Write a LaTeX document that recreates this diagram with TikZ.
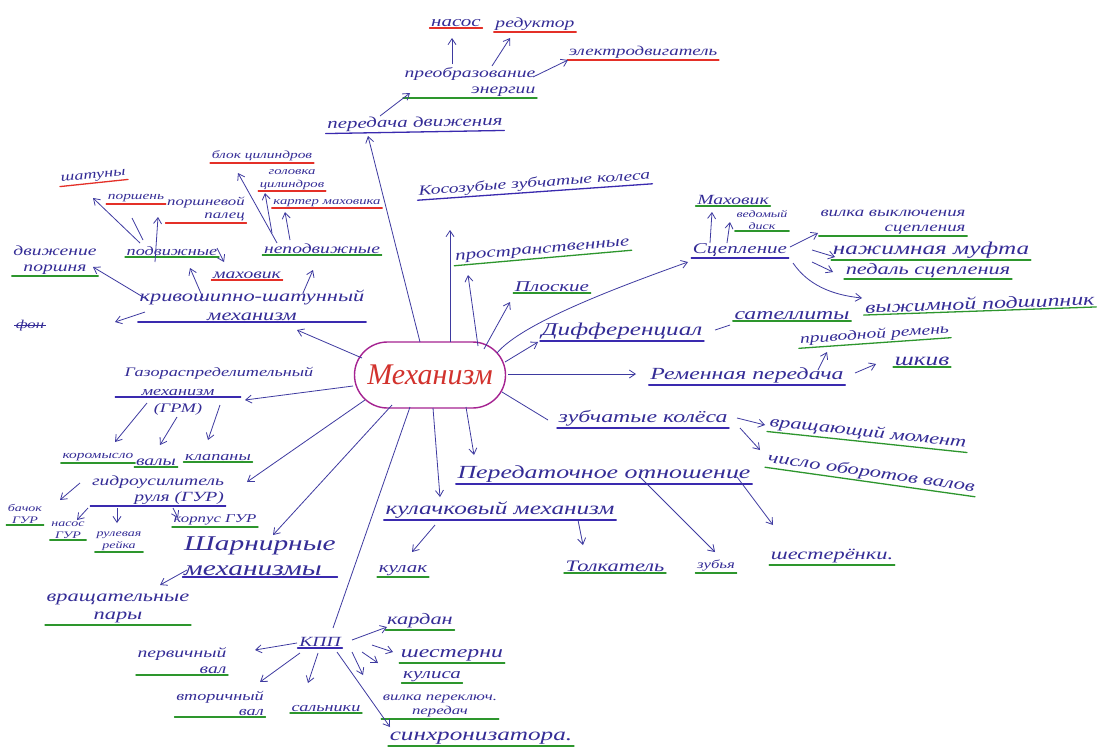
\documentclass[tikz,border=0pt]{standalone}
\usepackage{fontspec}
\setmainfont{Liberation Serif}
\newfontfamily\hand{Liberation Serif}[FakeStretch=1.4]
\usetikzlibrary{arrows.meta,calc,shapes.misc}
\definecolor{ink}{RGB}{52,44,150}
\definecolor{pen}{RGB}{62,58,160}
\definecolor{ulblue}{RGB}{58,42,175}
\definecolor{ulgreen}{RGB}{45,150,45}
\definecolor{ulred}{RGB}{228,48,40}
\definecolor{mechred}{RGB}{210,50,45}
\definecolor{mechrim}{RGB}{165,35,145}
\tikzset{
  txt/.style={anchor=south, inner sep=1.5pt, text=ink},
  fsz/.style={font=\hand\itshape\fontsize{#1}{\dimexpr #1pt*115/100\relax}\selectfont},
  ul/.style={append after command={(\tikzlastnode.south west) edge[draw=#1, line width=1.3pt, line cap=round] (\tikzlastnode.south east)}},
  strike/.style={append after command={(\tikzlastnode.west) edge[draw=ink, line width=1pt] (\tikzlastnode.east)}},
  bl/.style={txt, ul=ulblue},
  gr/.style={txt, ul=ulgreen},
  rd/.style={txt, ul=ulred},
  arr/.style={draw=pen, line width=0.8pt, -{Straight Barb[length=6pt,width=8pt]}},
  ln/.style={draw=pen, line width=0.8pt},
}
\begin{document}
\begin{tikzpicture}[x=1pt,y=-1pt]
\fill[white] (0,0) rectangle (1101,753);
\useasboundingbox (0,0) rectangle (1101,753);

% centre
\node[draw=mechrim, line width=1.4pt, rounded rectangle, minimum width=155pt, minimum height=66pt,
      text=mechred, font=\itshape\fontsize{30}{30}\selectfont, inner sep=2pt] (mech) at (430,375) {Механизм};

% top
\node[bl,fsz=15,rotate=1] (pd) at (415,132) {передача движения};
\node[gr,fsz=14,align=right] (pe) at (470,98) {преобразование\\энергии};
\node[rd,fsz=15] (nasos) at (456,28) {насос};
\node[rd,fsz=14] (redk) at (535,32) {редуктор};
\node[rd,fsz=13.5] (eldv) at (643,60) {электродвигатель};
\node[bl,fsz=14,rotate=4] (kos) at (535,192) {Косозубые зубчатые колеса};
\node[gr,fsz=15,rotate=5] (prost) at (543,258) {пространственные};
\node[gr,fsz=15] (plos) at (552,293) {Плоские};

% right
\node[bl,fsz=18] (dif) at (622,341) {Дифференциал};
\node[gr,fsz=17] (sat) at (792,321) {сателлиты};
\node[bl,fsz=17] (rem) at (747,385) {Ременная передача};
\node[gr,fsz=14,rotate=4] (priv) at (875,343) {приводной ремень};
\node[gr,fsz=18] (shkiv) at (922,367) {шкив};
\node[bl,fsz=17] (zk) at (643,428) {зубчатые колёса};
\node[gr,fsz=16,rotate=-6] (vm) at (867,442) {вращающий момент};
\node[gr,fsz=16,rotate=-8] (chov) at (870,482) {число оборотов валов};
\node[bl,fsz=18.5] (po) at (604,484) {Передаточное отношение};
\node[bl,fsz=18] (kul) at (500,520) {кулачковый механизм};
\node[gr,fsz=15] (kulak) at (403,577) {кулак};
\node[gr,fsz=16] (tolk) at (615,573) {Толкатель};
\node[gr,fsz=12] (zubya) at (716,573) {зубья};
\node[gr,fsz=16] (shest) at (832,565) {шестерёнки.};

% clutch
\node[bl,fsz=15] (scep) at (740,258) {Сцепление};
\node[gr,fsz=14] (mahov) at (733,206) {Маховик};
\node[gr,fsz=10,align=center] (ved) at (762,231) {ведомый\\диск};
\node[gr,fsz=13.5,align=right] (vilv) at (893,236) {вилка выключения\\сцепления};
\node[gr,fsz=18] (nazh) at (931,260) {нажимная муфта};
\node[gr,fsz=16] (ped) at (928,279) {педаль сцепления};
\node[gr,fsz=17,rotate=2] (vyzh) at (980,311) {выжимной подшипник};

% gearbox
\node[bl,fsz=14] (kpp) at (320,648) {КПП};
\node[gr,fsz=16] (kard) at (420,630) {кардан};
\node[gr,fsz=17] (shestr) at (452,663) {шестерни};
\node[gr,fsz=15] (kulisa) at (432,683) {кулиса};
\node[gr,fsz=12,align=center] (vilka) at (440,719) {вилка переключ.\\передач};
\node[gr,fsz=18] (sinh) at (481,746) {синхронизатора.};
\node[gr,fsz=13] (saln) at (326,713) {сальники};
\node[gr,fsz=13,align=right] (vtor) at (220,717) {вторичный\\вал};
\node[gr,fsz=14,align=right] (perv) at (182,675) {первичный\\вал};

% joints
\node[bl,fsz=21,align=left] (sharn) at (260,577) {Шарнирные\\механизмы};
\node[gr,fsz=16,align=center] (vrash) at (118,625) {вращательные\\пары};

% power steering
\node[bl,fsz=14,align=right] (gur) at (158,506) {гидроусилитель\\руля (ГУР)};
\node[gr,fsz=10,align=center] (bachok) at (25,525) {бачок\\ГУР};
\node[gr,fsz=10,align=center] (nasgur) at (68,540) {насос\\ГУР};
\node[gr,fsz=10,align=center] (rul) at (119,552) {рулевая\\рейка};
\node[gr,fsz=12] (korp) at (215,527) {корпус ГУР};

% valve train
\node[txt,fsz=13] (grm) at (219,381) {Газораспределительный};
\node[bl,fsz=13,minimum width=125pt] (grmm) at (178,397) {механизм};
\node[txt,fsz=13] (grmab) at (178,417) {(ГРМ)};
\node[gr,fsz=11] (korom) at (98,463) {коромысло};
\node[gr,fsz=14] (valy) at (156,467) {валы};
\node[gr,fsz=13] (klap) at (218,462) {клапаны};

% crank
\node[bl,fsz=16,align=center] (kshm) at (252,322) {кривошипно-шатунный\\механизм};
\node[gr,fsz=14,align=center] (dvp) at (55,276) {движение\\поршня};
\node[txt,fsz=12,strike] (fon) at (30,333) {фон};
\node[gr,fsz=13] (podv) at (172,257) {подвижные};
\node[gr,fsz=14] (nepodv) at (322,255) {неподвижные};
\node[rd,fsz=14] (mah) at (247,280) {маховик};
\node[rd,fsz=13,rotate=6] (shat) at (94,183) {шатуны};
\node[rd,fsz=11] (porsh) at (136,204) {поршень};
\node[rd,fsz=12,align=right] (ppal) at (206,223) {поршневой\\палец};
\node[rd,fsz=11] (blok) at (262,163) {блок цилиндров};
\node[rd,fsz=10.5,align=center] (gol) at (292,191) {головка\\цилиндров};
\node[rd,fsz=10.5] (kart) at (327,208) {картер маховика};

% connectors from centre
\draw[arr] ($(mech)+(-10,-33)$) -- ($(pd.south)+(-47,4)$);
\draw[arr] ($(mech)+(20,-33)$) -- ($(kos.south)+(-85,38)$);
\draw[arr] ($(mech)+(48,-29)$) -- ($(prost.south)+(-75,17)$);
\draw[arr] ($(mech)+(54,-26)$) -- ($(plos.south)+(-42,9)$);
\draw[arr] ($(mech)+(67,-22)$) .. controls +(25,-30) and +(-70,25) .. ($(scep.south)+(-52,4)$);
\draw[arr] ($(mech)+(75,-13)$) -- ($(dif.south)+(-84,1)$);
\draw[arr] ($(mech)+(78,-1)$) -- ($(rem.south)+(-111,-11)$);
\draw[ln]  ($(mech)+(72,17)$) -- ($(zk.south)+(-95,-8)$);
\draw[arr] ($(mech)+(36,32)$) -- ($(po.south)+(-130,-29)$);
\draw[arr] ($(mech)+(3,33)$) -- ($(kul.south)+(-60,-23)$);
\draw[ln]  ($(mech)+(-20,32)$) -- ($(kpp.south)+(13,-20)$);
\draw[arr] ($(mech)+(-38,30)$) -- ($(sharn.south)+(13,-42)$);
\draw[arr] ($(mech)+(-65,25)$) -- ($(gur.south)+(89,-24)$);
\draw[arr] ($(mech)+(-77,11)$) -- ($(grmm.south)+(67,3)$);
\draw[arr] ($(mech)+(-68,-17)$) -- ($(kshm.south)+(45,8)$);

% top cluster
\draw[arr] ($(pd.south)+(-35,-16)$) -- ($(pe.south)+(-60,-5)$);
\draw[arr] ($(pe.south)+(-18,-34)$) -- ($(nasos.south)+(-4,10)$);
\draw[arr] ($(pe.south)+(22,-32)$) -- ($(redk.south)+(-25,6)$);
\draw[arr] ($(pe.south)+(63,-21)$) -- ($(eldv.south)+(-75,0)$);

% right cluster
\draw[ln]  ($(dif.south)+(93,-11)$) -- ($(sat.south)+(-62,4)$);
\draw[arr] ($(rem.south)+(71,-15)$) -- ($(priv.south)+(-48,9)$);
\draw[arr] ($(rem.south)+(108,-12)$) -- ($(shkiv.south)+(-46,-3)$);
\draw[arr] ($(zk.south)+(94,-10)$) -- ($(vm.south)+(-102,-17)$);
\draw[arr] ($(zk.south)+(97,0)$) -- ($(chov.south)+(-110,-32)$);
\draw[arr] ($(po.south)+(36,-7)$) -- ($(zubya.south)+(-1,-21)$);
\draw[arr] ($(po.south)+(133,-7)$) -- ($(shest.south)+(-59,-40)$);
\draw[arr] ($(kul.south)+(-65,5)$) -- ($(kulak.south)+(9,-25)$);
\draw[arr] ($(kul.south)+(78,0)$) -- ($(tolk.south)+(-32,-28)$);

% clutch cluster
\draw[arr] ($(scep.south)+(-30,-15)$) -- ($(mahov.south)+(-21,6)$);
\draw[arr] ($(scep.south)+(-13,-15)$) -- ($(ved.south)+(-32,-9)$);
\draw[arr] ($(scep.south)+(50,-11)$) -- ($(vilv.south)+(-75,-3)$);
\draw[arr] ($(scep.south)+(72,-8)$) -- ($(nazh.south)+(-96,-3)$);
\draw[arr] ($(scep.south)+(72,4)$) -- ($(ped.south)+(-95,-7)$);
\draw[arr] ($(scep.south)+(53,5)$) .. controls +(15,22) and +(-30,-3) .. ($(vyzh.south)+(-118,-13)$);

% crank cluster
\draw[arr] ($(kshm.south)+(-104,-22)$) -- ($(dvp.south)+(38,-9)$);
\draw[arr] ($(kshm.south)+(-107,-10)$) -- ($(fon.south)+(85,-11)$);
\draw[arr] ($(kshm.south)+(-49,-24)$) -- ($(podv.south)+(18,11)$);
\draw[arr] ($(kshm.south)+(51,-29)$) -- ($(nepodv.south)+(-9,15)$);
\draw[arr] ($(podv.south)+(-32,-14)$) -- ($(shat.south)+(-1,15)$);
\draw[ln]  ($(podv.south)+(-29,-17)$) -- ($(porsh.south)+(-4,14)$);
\draw[arr] ($(podv.south)+(-17,5)$) -- ($(ppal.south)+(-48,-6)$);
\draw[arr] ($(podv.south)+(45,-9)$) -- ($(mah.south)+(-23,-18)$);
\draw[arr] ($(nepodv.south)+(-45,-12)$) -- ($(blok.south)+(-24,10)$);
\draw[arr] ($(nepodv.south)+(-50,-22)$) -- ($(gol.south)+(-27,2)$);
\draw[arr] ($(nepodv.south)+(-32,-15)$) -- ($(kart.south)+(-42,4)$);

% valve train cluster
\draw[arr] ($(grmm.south)+(-31,6)$) -- ($(korom.south)+(17,-21)$);
\draw[arr] ($(grmab.south)+(-1,0)$) -- ($(valy.south)+(4,-22)$);
\draw[arr] ($(grmm.south)+(42,8)$) -- ($(klap.south)+(-10,-22)$);

% steering cluster
\draw[arr] ($(gur.south)+(-78,-23)$) -- ($(bachok.south)+(35,-25)$);
\draw[arr] ($(gur.south)+(-70,2)$) -- ($(nasgur.south)+(9,-20)$);
\draw[arr] ($(gur.south)+(-41,2)$) -- ($(rul.south)+(-2,-29)$);
\draw[arr] ($(gur.south)+(15,2)$) -- ($(korp.south)+(-37,-9)$);

% joints
\draw[arr] ($(sharn.south)+(-73,-7)$) -- ($(vrash.south)+(42,-40)$);

% gearbox cluster
\draw[arr] ($(kpp.south)+(32,-8)$) -- ($(kard.south)+(-33,-3)$);
\draw[arr] ($(kpp.south)+(52,-3)$) -- ($(shestr.south)+(-59,-11)$);
\draw[arr] ($(kpp.south)+(42,4)$) -- ($(kulisa.south)+(-54,-20)$);
\draw[arr] ($(kpp.south)+(32,4)$) -- ($(vilka.south)+(-77,-44)$);
\draw[arr] ($(kpp.south)+(17,4)$) -- ($(sinh.south)+(-91,-19)$);
\draw[arr] ($(kpp.south)+(-2,5)$) -- ($(saln.south)+(-18,-30)$);
\draw[arr] ($(kpp.south)+(-20,5)$) -- ($(vtor.south)+(40,-35)$);
\draw[arr] ($(kpp.south)+(-23,-5)$) -- ($(perv.south)+(73,-25)$);
\end{tikzpicture}
\end{document}
